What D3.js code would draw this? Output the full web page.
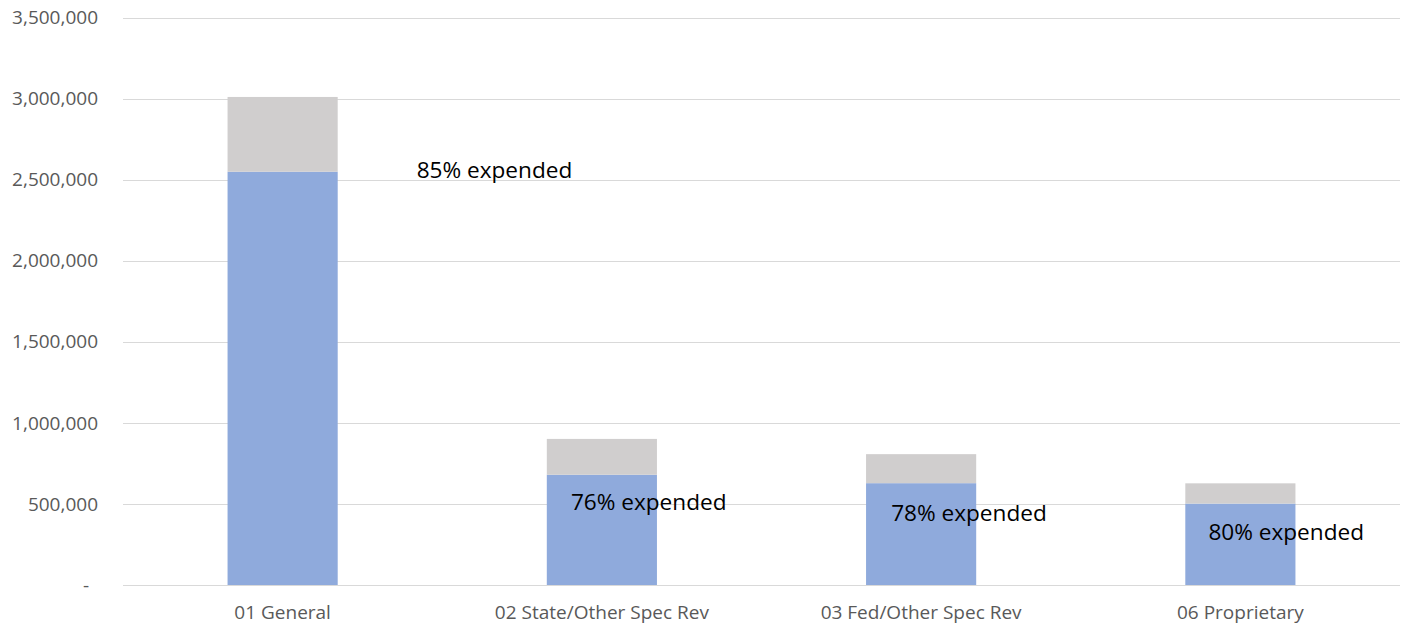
<!DOCTYPE html>
<html>
<head>
<meta charset="utf-8">
<script src="https://cdn.jsdelivr.net/npm/d3@7"></script>
<style>
  body { margin: 0; background: #fff; }
  svg text { font-family: "Open Sans", "Liberation Sans", sans-serif; }
</style>
</head>
<body>
<div id="chart"></div>
<script>
var categories = ["01 General", "02 State/Other Spec Rev", "03 Fed/Other Spec Rev", "06 Proprietary"];
var expended = [2549000, 680000, 628000, 502000];
var remaining = [461000, 221000, 179000, 125000];
var pct_labels = ["85% expended", "76% expended", "78% expended", "80% expended"];
// where each label sits, in data units (value of its baseline) and px offset from band centre
var label_values = [2510000, 463000, 395000, 279000];
var label_dx = [134, -31, -30, -32];
var y_ticks = [0, 500000, 1000000, 1500000, 2000000, 2500000, 3000000, 3500000];

var width = 1403, height = 624;
var margin = {top: 17.5, right: 3, bottom: 39, left: 123};

var svg = d3.select("#chart").append("svg")
    .attr("width", width)
    .attr("height", height);

var x = d3.scaleBand()
    .domain(categories)
    .range([margin.left, width - margin.right])
    .paddingInner(0.655)
    .paddingOuter(0.3275);

var y = d3.scaleLinear()
    .domain([0, 3500000])
    .range([height - margin.bottom, margin.top]);

// gridlines
svg.append("g")
    .selectAll("line")
    .data(y_ticks)
    .enter()
    .append("line")
        .attr("x1", margin.left)
        .attr("x2", width - margin.right)
        .attr("y1", function(d) { return Math.round(y(d)) + 0.5; })
        .attr("y2", function(d) { return Math.round(y(d)) + 0.5; })
        .style("stroke", "#d9d9d9")
        .style("stroke-width", "1px");

// y tick labels
var fmt = d3.format(",");
svg.append("g")
    .selectAll("text")
    .data(y_ticks)
    .enter()
    .append("text")
        .attr("x", function(d) { return d === 0 ? 89 : 98; })
        .attr("y", function(d) { return y(d); })
        .attr("dy", "0.35em")
        .attr("text-anchor", "end")
        .attr("font-size", "19px")
        .attr("fill", "#595959")
        .text(function(d) { return d === 0 ? "-" : fmt(d); });

// stacked bars
var rows = categories.map(function(c, i) {
    return {cat: c, expended: expended[i], remaining: remaining[i]};
});
var stack = d3.stack().keys(["expended", "remaining"])(rows);
var colors = {expended: "#8faadc", remaining: "#d0cece"};

svg.append("g")
    .selectAll("g")
    .data(stack)
    .enter()
    .append("g")
        .attr("fill", function(d) { return colors[d.key]; })
    .selectAll("rect")
    .data(function(d) { return d; })
    .enter()
    .append("rect")
        .attr("x", function(d) { return x(d.data.cat); })
        .attr("width", x.bandwidth())
        .attr("y", function(d) { return y(d[1]); })
        .attr("height", function(d) { return y(d[0]) - y(d[1]); });

// x axis category labels
svg.append("g")
    .selectAll("text")
    .data(categories)
    .enter()
    .append("text")
        .attr("x", function(d) { return x(d) + x.bandwidth() / 2; })
        .attr("y", height - 5)
        .attr("text-anchor", "middle")
        .attr("font-size", "19px")
        .attr("fill", "#595959")
        .text(function(d) { return d; });

// percent expended labels
svg.append("g")
    .selectAll("text")
    .data(pct_labels)
    .enter()
    .append("text")
        .attr("x", function(d, i) { return x(categories[i]) + x.bandwidth() / 2 + label_dx[i]; })
        .attr("y", function(d, i) { return y(label_values[i]); })
        .attr("font-size", "22.6px")
        .attr("fill", "#000")
        .text(function(d) { return d; });
</script>
</body>
</html>
